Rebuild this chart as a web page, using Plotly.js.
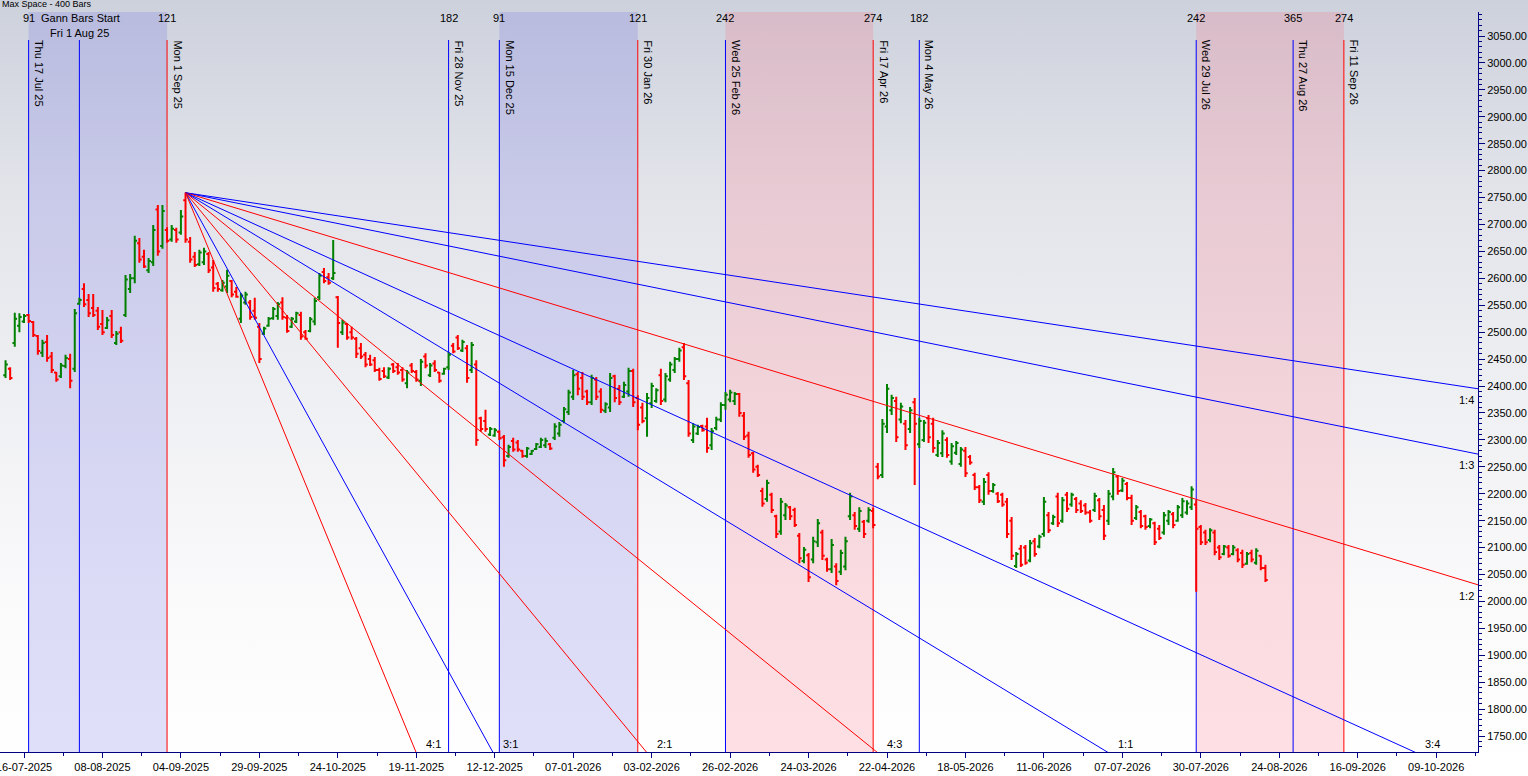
<!DOCTYPE html>
<html><head><meta charset="utf-8">
<script src="https://cdn.plot.ly/plotly-3.0.1.min.js"></script>
<style>
html,body{margin:0;padding:0;width:1528px;height:776px;overflow:hidden;background:#fff;}
#chart{width:1528px;height:776px;background:linear-gradient(180deg,#cdd1dc 0px,#e1e3e9 180px,#eff0f3 400px,#fafafb 600px,#ffffff 776px);}
</style></head><body><div id="chart"></div>
<script>
// ---- data (bar index 0 = 16-07-2025, one index per trading day) ----
const firstBar = -4;
const open = [
2420,2432,2480,2512,2520,2532,2519,2493,2462,2482,
2455,2425,2418,2437,2450,2432,2553,2580,2560,2545,
2540,2515,2508,2530,2480,2500,2532,2580,2600,2665,
2640,2615,2630,2728,2660,2690,2672,2690,2685,2745,
2668,2640,2626,2630,2645,2620,2590,2578,2585,2595,
2575,2525,2555,2555,2540,2510,2497,2512,2526,2530,
2555,2527,2510,2520,2532,2500,2502,2520,2565,2612,
2602,2600,2565,2500,2515,2500,2488,2470,2458,2450,
2448,2430,2428,2416,2440,2435,2430,2405,2438,2426,
2410,2455,2420,2442,2425,2423,2435,2475,2490,2466,
2470,2430,2440,2340,2335,2310,2308,2315,2305,2270,
2298,2295,2280,2270,2274,2283,2287,2290,2292,2304,
2312,2335,2352,2380,2422,2415,2390,2370,2412,2390,
2354,2360,2418,2395,2380,2390,2428,2378,2360,2340,
2368,2372,2420,2375,2412,2430,2450,2472,2405,2300,
2312,2326,2325,2290,2322,2338,2365,2375,2372,2385,
2345,2308,2275,2250,2205,2190,2198,2158,2130,2160,
2175,2170,2122,2075,2086,2078,2110,2128,2078,2060,
2065,2055,2065,2158,2160,2135,2148,2150,2168,2250,
2235,2325,2355,2372,2338,2330,2320,2370,2292,2300,
2340,2330,2272,2275,2300,2260,2276,2255,2280,2268,
2235,2212,2185,2235,2205,2200,2198,2185,2150,2066,
2098,2100,2076,2112,2102,2125,2160,2145,2195,2150,
2198,2180,2190,2182,2178,2165,2170,2188,2170,2150,
2195,2232,2206,2218,2192,2155,2166,2158,2140,2145,
2135,2128,2150,2162,2150,2160,2165,2175,2180,2138,
2128,2114,2128,2100,2088,2100,2088,2095,2090,2070,
2090,2072,2085,2062];
const high = [
2448,2435,2536,2535,2534,2534,2521,2495,2486,2495,
2463,2426,2443,2458,2460,2543,2564,2591,2571,2571,
2547,2541,2528,2541,2502,2510,2606,2608,2679,2675,
2653,2638,2699,2736,2736,2695,2699,2694,2727,2759,
2677,2649,2653,2657,2649,2634,2593,2597,2616,2597,
2584,2573,2575,2560,2564,2517,2510,2528,2547,2556,
2565,2532,2528,2538,2538,2504,2528,2564,2610,2619,
2610,2671,2567,2523,2517,2510,2491,2480,2463,2458,
2454,2434,2435,2435,2443,2443,2435,2430,2443,2430,
2450,2461,2443,2448,2426,2434,2463,2480,2495,2486,
2476,2482,2448,2343,2356,2324,2322,2318,2309,2291,
2304,2300,2281,2287,2281,2294,2304,2304,2294,2331,
2333,2361,2393,2430,2426,2426,2393,2421,2417,2396,
2370,2424,2421,2402,2408,2434,2432,2383,2369,2387,
2406,2396,2432,2424,2445,2454,2471,2480,2411,2331,
2328,2328,2341,2322,2343,2370,2389,2393,2389,2387,
2352,2315,2278,2254,2211,2226,2202,2161,2192,2183,
2177,2174,2127,2101,2090,2120,2153,2133,2081,2116,
2071,2096,2120,2202,2166,2175,2151,2175,2174,2257,
2339,2404,2384,2380,2369,2337,2361,2378,2341,2337,
2346,2341,2300,2318,2305,2294,2298,2287,2287,2272,
2239,2216,2229,2240,2220,2203,2202,2192,2157,2092,
2105,2105,2114,2118,2124,2194,2166,2161,2202,2194,
2203,2202,2194,2188,2183,2170,2202,2192,2179,2207,
2248,2235,2229,2222,2198,2179,2170,2161,2155,2148,
2142,2166,2170,2166,2179,2192,2188,2214,2188,2142,
2133,2136,2133,2105,2105,2105,2105,2099,2096,2092,
2096,2099,2086,2068];
const low = [
2415,2411,2473,2500,2517,2517,2491,2458,2454,2445,
2424,2408,2415,2433,2396,2426,2551,2547,2528,2528,
2504,2495,2506,2489,2476,2480,2528,2573,2591,2629,
2619,2610,2623,2642,2655,2666,2668,2666,2681,2666,
2629,2621,2623,2625,2610,2575,2575,2575,2573,2565,
2564,2517,2551,2523,2523,2443,2495,2510,2523,2523,
2523,2499,2508,2517,2486,2486,2500,2513,2560,2591,
2588,2597,2471,2495,2486,2486,2452,2450,2435,2437,
2426,2410,2415,2413,2424,2421,2408,2396,2424,2408,
2400,2433,2417,2426,2406,2421,2430,2461,2467,2463,
2406,2424,2289,2315,2315,2307,2306,2300,2250,2267,
2278,2278,2267,2267,2272,2281,2285,2285,2281,2300,
2306,2331,2346,2374,2383,2374,2365,2365,2374,2350,
2350,2352,2370,2365,2378,2380,2361,2318,2331,2306,
2359,2369,2365,2370,2408,2424,2445,2411,2306,2294,
2309,2315,2276,2281,2318,2333,2356,2370,2365,2343,
2300,2267,2239,2231,2176,2185,2164,2118,2124,2151,
2151,2138,2071,2071,2036,2071,2101,2077,2055,2053,
2030,2049,2058,2151,2133,2129,2118,2146,2136,2227,
2229,2313,2346,2296,2331,2281,2313,2216,2285,2296,
2294,2276,2268,2268,2267,2254,2272,2250,2231,2254,
2207,2183,2179,2198,2202,2183,2176,2118,2077,2062,
2064,2068,2073,2083,2099,2120,2127,2142,2138,2146,
2166,2176,2164,2164,2161,2146,2166,2151,2114,2142,
2188,2198,2203,2188,2142,2151,2136,2133,2136,2105,
2114,2124,2142,2136,2148,2155,2161,2170,2018,2105,
2105,2110,2086,2077,2086,2081,2086,2073,2062,2068,
2073,2068,2058,2036];
const close = [
2440,2415,2525,2528,2530,2521,2495,2465,2480,2452,
2430,2412,2438,2452,2410,2535,2560,2552,2535,2532,
2510,2500,2522,2495,2497,2484,2598,2600,2670,2635,
2622,2632,2690,2650,2725,2670,2692,2672,2715,2672,
2635,2625,2648,2650,2615,2582,2580,2592,2605,2570,
2566,2568,2570,2528,2527,2450,2507,2525,2543,2552,
2528,2502,2525,2535,2492,2488,2524,2558,2605,2595,
2592,2610,2517,2518,2490,2490,2460,2455,2440,2440,
2430,2413,2418,2432,2428,2425,2412,2425,2428,2412,
2445,2438,2438,2430,2410,2432,2458,2464,2470,2482,
2415,2476,2300,2320,2320,2320,2318,2303,2262,2287,
2282,2282,2270,2284,2280,2292,2300,2298,2284,2325,
2328,2357,2388,2420,2395,2380,2370,2415,2380,2356,
2366,2415,2378,2370,2402,2428,2370,2328,2335,2378,
2400,2392,2372,2418,2440,2450,2466,2418,2312,2325,
2324,2318,2285,2316,2338,2365,2384,2388,2385,2350,
2306,2272,2245,2235,2182,2220,2170,2125,2185,2178,
2158,2142,2080,2096,2045,2112,2145,2085,2060,2105,
2038,2090,2112,2195,2140,2168,2125,2170,2142,2232,
2330,2395,2378,2305,2362,2290,2355,2330,2335,2332,
2305,2285,2294,2312,2272,2288,2294,2282,2238,2258,
2212,2188,2222,2205,2216,2186,2180,2125,2085,2088,
2068,2072,2108,2088,2120,2185,2132,2157,2145,2188,
2172,2198,2170,2168,2165,2150,2196,2158,2122,2200,
2240,2205,2224,2192,2150,2175,2140,2138,2152,2110,
2118,2160,2166,2142,2175,2186,2182,2208,2135,2110,
2110,2132,2092,2082,2102,2085,2100,2078,2068,2088,
2078,2094,2062,2040];

const tickPos  = [0,17,34,51,68,85,102,119,136,153,170,187,204,221,238,255,272,289,306];
const tickText = ['16-07-2025','08-08-2025','04-09-2025','29-09-2025','24-10-2025','19-11-2025','12-12-2025','07-01-2026','03-02-2026','26-02-2026','24-03-2026','22-04-2026','18-05-2026','11-06-2026','07-07-2026','30-07-2026','24-08-2026','16-09-2026','09-10-2026'];

// Gann time markers
const markerBar   = [1,12,31,92,103,133,152,184,194,254,275,286];
const markerColor = ['#0000ff','#0000ff','#ff0000','#0000ff','#0000ff','#ff0000','#0000ff','#ff0000','#0000ff','#0000ff','#0000ff','#ff0000'];
const markerDate  = ['Thu 17 Jul 25','','Mon 1 Sep 25','Fri 28 Nov 25','Mon 15 Dec 25','Fri 30 Jan 26','Wed 25 Feb 26','Fri 17 Apr 26','Mon 4 May 26','Wed 29 Jul 26','Thu 27 Aug 26','Fri 11 Sep 26'];
const markerCount = ['91','','121','182','91','121','242','274','182','242','365','274'];

// shaded time windows
const shadeFrom  = [1,103,152,254];
const shadeTo    = [31,133,184,286];
const shadeColor = ['rgba(100,100,230,0.2)','rgba(100,100,230,0.2)','rgba(255,100,120,0.2)','rgba(255,100,120,0.2)'];

// Gann fan
const fanOriginBar = 35;
const fanOriginPrice = 2759;
const fanUnit = 5.2;   // price per bar for 1:1
const fanLabel = ['1:4','1:3','1:2','3:4','1:1','4:3','2:1','3:1','4:1'];
const fanRatio = [1/4,1/3,1/2,3/4,1,4/3,2,3,4];
const fanColor = ['#0000ff','#0000ff','#ff0000','#0000ff','#0000ff','#ff0000','#ff0000','#0000ff','#ff0000'];

// ---- layout constants ----
const xMin = -5.2, xMax = 315.06, yMin = 1720.4, yMax = 3094.6;
const plotTop = 12, plotBot = 752, plotH = plotBot - plotTop;
const pY = Y => (plotBot - Y) / plotH;
const F = {family:'Liberation Sans, Arial, sans-serif', size:11, color:'#000'};

const xs = open.map((_, k) => firstBar + k);
const traces = [];
traces.push({type:'ohlc', x:xs, open:open, high:high, low:low, close:close,
  increasing:{line:{color:'#008000', width:2}}, decreasing:{line:{color:'#ff0000', width:2}},
  tickwidth:0.5, hoverinfo:'skip', showlegend:false});

const fanEnd = 340;
const annotations = [];
fanRatio.forEach((r, j) => {
  traces.push({type:'scatter', mode:'lines', x:[fanOriginBar, fanEnd],
    y:[fanOriginPrice, fanOriginPrice - r*fanUnit*(fanEnd - fanOriginBar)],
    line:{color:fanColor[j], width:1}, hoverinfo:'skip', showlegend:false});
  const endP = fanOriginPrice - r*fanUnit*(xMax - fanOriginBar);
  if (endP >= yMin) {
    annotations.push({xref:'x', yref:'y', x:xMax, y:endP, xanchor:'right', yanchor:'top',
      xshift:-2, yshift:-3, text:fanLabel[j], showarrow:false, font:F});
  } else {
    const xi = fanOriginBar + (fanOriginPrice - yMin)/(r*fanUnit);
    annotations.push({xref:'x', yref:'paper', x:xi, y:0, xanchor:'center', yanchor:'bottom',
      xshift:18, yshift:0, text:fanLabel[j], showarrow:false, font:F});
  }
});

const shapes = [];
shadeFrom.forEach((a, j) => shapes.push({type:'rect', xref:'x', yref:'paper', x0:a, x1:shadeTo[j], y0:0, y1:1,
  fillcolor:shadeColor[j], line:{width:0}, layer:'below'}));
markerBar.forEach((b, j) => {
  shapes.push({type:'line', xref:'x', yref:'paper', x0:b, x1:b, y0:0, y1:pY(40),
    line:{color:markerColor[j], width:1}, layer:'below'});
  if (markerDate[j]) annotations.push({xref:'x', yref:'paper', x:b, y:pY(40), xanchor:'left', yanchor:'top',
    xshift:2, yshift:2, text:markerDate[j], textangle:90, showarrow:false, font:F});
  if (markerCount[j]) annotations.push({xref:'x', yref:'paper', x:b, y:pY(18), xanchor:'center', yanchor:'middle',
    text:markerCount[j], showarrow:false, font:F});
});
annotations.push({xref:'paper', yref:'paper', x:39/1478, y:pY(18), xanchor:'left', yanchor:'middle',
  text:'Gann Bars Start', showarrow:false, font:F});
annotations.push({xref:'x', yref:'paper', x:markerBar[1], y:pY(33), xanchor:'center', yanchor:'middle',
  text:'Fri 1 Aug 25', showarrow:false, font:F});
annotations.push({xref:'paper', yref:'paper', x:0, y:pY(4), xanchor:'left', yanchor:'middle',
  text:'Max Space - 400 Bars', showarrow:false,
  font:{family:'Liberation Sans, Arial, sans-serif', size:9, color:'#000'}});

const layout = {
  width:1528, height:776,
  margin:{l:0, r:50, t:plotTop, b:776-plotBot, pad:0},
  paper_bgcolor:'rgba(0,0,0,0)', plot_bgcolor:'rgba(0,0,0,0)',
  showlegend:false, hovermode:false,
  xaxis:{range:[xMin,xMax], type:'linear', rangeslider:{visible:false}, showgrid:false, zeroline:false,
    tickmode:'array', tickvals:tickPos, ticktext:tickText, ticks:'outside', ticklen:5, tickcolor:'#000080',
    ticklabeloverflow:'allow',
    showline:true, linecolor:'#000080', linewidth:1, tickfont:F, fixedrange:true,
    minor:{tickmode:'linear', tick0:0, dtick:8.5, ticks:'outside', ticklen:3, tickcolor:'#000080', showgrid:false}},
  yaxis:{range:[yMin,yMax], side:'right', showgrid:false, zeroline:false, tick0:0, dtick:50, tickformat:'.2f',
    ticks:'outside', ticklen:6, tickcolor:'#000080', showline:true, linecolor:'#000080', linewidth:1,
    tickfont:F, fixedrange:true,
    minor:{dtick:10, ticks:'outside', ticklen:3, tickcolor:'#000080', showgrid:false}},
  shapes:shapes, annotations:annotations
};
Plotly.newPlot('chart', traces, layout, {staticPlot:true, displayModeBar:false});
</script></body></html>
